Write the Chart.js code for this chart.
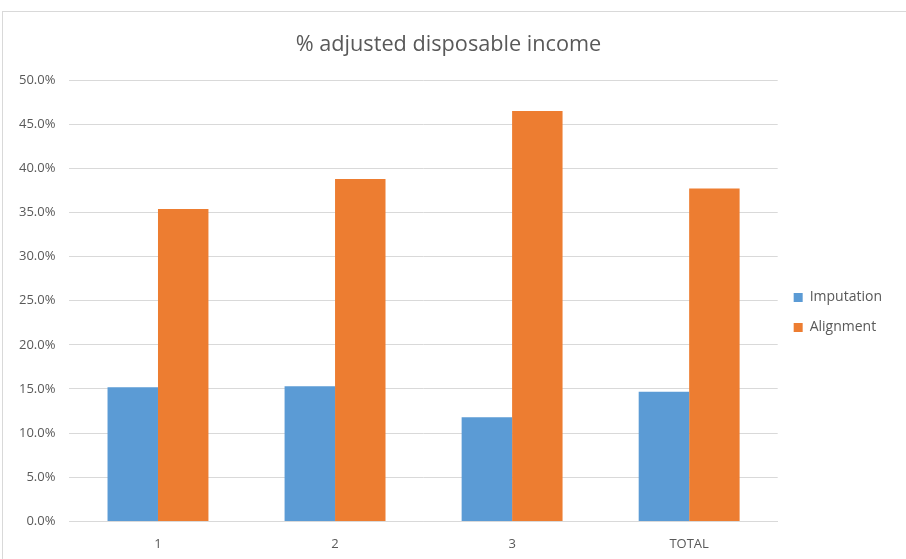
<!DOCTYPE html>
<html>
<head>
    <title>% adjusted disposable income</title>
    <script src="https://cdn.jsdelivr.net/npm/chart.js"></script>
    <style>
        body {
            margin: 0;
            background: #ffffff;
        }
        .frame {
            position: absolute;
            left: 2px;
            top: 11px;
            width: 910px;
            height: 560px;
            border: 1px solid #d9d9d9;
            box-sizing: border-box;
        }
        canvas {
            position: absolute;
            left: 0;
            top: 0;
        }
    </style>
</head>
<body>
    <div class="frame"></div>
    <canvas id="incomeChart" width="906" height="559"></canvas>

    <script>
        // Data
        const categories = ['1', '2', '3', 'TOTAL'];
        const imputation = [15.2, 15.3, 11.8, 14.7];
        const alignment = [35.4, 38.8, 46.5, 37.7];

        const textColor = '#595959';
        const fontFamily = '"Open Sans", sans-serif';

        const ctx = document.getElementById('incomeChart').getContext('2d');
        const incomeChart = new Chart(ctx, {
            type: 'bar',
            data: {
                labels: categories,
                datasets: [
                    {
                        label: 'Imputation',
                        data: imputation,
                        backgroundColor: '#5b9bd5',
                        barPercentage: 1.0,
                        categoryPercentage: 0.57
                    },
                    {
                        label: 'Alignment',
                        data: alignment,
                        backgroundColor: '#ed7d31',
                        barPercentage: 1.0,
                        categoryPercentage: 0.57
                    }
                ]
            },
            options: {
                responsive: false,
                animation: false,
                layout: {
                    padding: { left: 5, right: 14, top: 32, bottom: -8 }
                },
                plugins: {
                    title: {
                        display: true,
                        text: '% adjusted disposable income',
                        color: textColor,
                        font: { family: fontFamily, size: 21.7, weight: 'normal' },
                        padding: { top: 0, bottom: 22 }
                    },
                    legend: {
                        position: 'right',
                        // empty title only pushes the legend items down a bit
                        title: {
                            display: true,
                            text: '',
                            font: { size: 10 },
                            padding: { top: 0, bottom: 14 }
                        },
                        labels: {
                            color: textColor,
                            font: { family: fontFamily, size: 14 },
                            boxWidth: 9,
                            boxHeight: 9,
                            padding: 16
                        }
                    },
                    tooltip: { enabled: false }
                },
                scales: {
                    x: {
                        grid: { display: false, drawTicks: false },
                        border: { color: '#d9d9d9' },
                        ticks: {
                            color: textColor,
                            font: { family: fontFamily, size: 13 },
                            padding: 15
                        }
                    },
                    y: {
                        min: 0,
                        max: 50,
                        grid: { color: '#d9d9d9', drawTicks: false },
                        border: { display: false },
                        ticks: {
                            stepSize: 5,
                            color: textColor,
                            font: { family: fontFamily, size: 13 },
                            padding: 14,
                            callback: function(value) {
                                return value.toFixed(1) + '%';
                            }
                        }
                    }
                }
            }
        });
    </script>
</body>
</html>
